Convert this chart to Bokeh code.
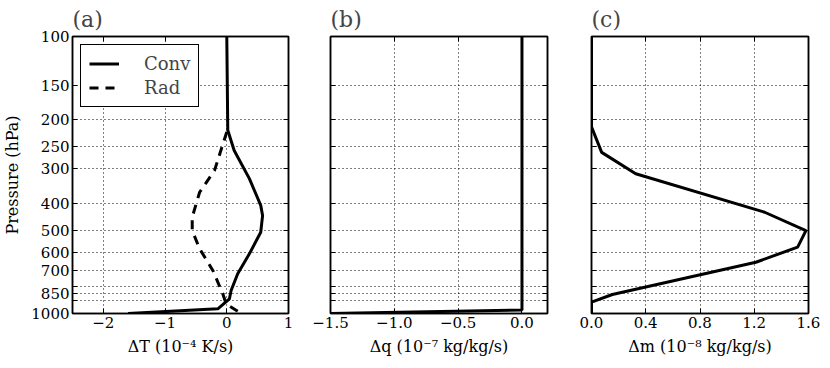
from bokeh.plotting import figure
from bokeh.layouts import row
from bokeh.models import Range1d, FixedTicker, Legend, LegendItem, LinearAxis, LogAxis
from bokeh.embed import file_html
from bokeh.resources import INLINE

# ---- data ----
p_ticks = [100, 150, 200, 250, 300, 400, 500, 600, 700, 800, 850, 900, 1000]
p_labels = ["100", "150", "200", "250", "300", "400", "500", "600", "700", "", "850", "", "1000"]

# (a) temperature tendency
conv_p = [100, 218, 258, 326, 407, 443, 509, 609, 719, 826, 885, 962, 1000]
conv_dT = [0.0, 0.016, 0.12, 0.366, 0.55, 0.58, 0.55, 0.366, 0.177, 0.07, 0.043, -0.145, -1.6]
rad_p = [221, 305, 365, 449, 502, 584, 699, 849, 923, 989]
rad_dT = [0.0, -0.2, -0.44, -0.56, -0.56, -0.44, -0.226, -0.065, -0.01, 0.2]

# (b) moisture tendency
q_p = [100, 972, 1000]
q_dq = [0.0, 0.0, -1.5]

# (c) mass tendency
m_p = [100, 212, 262, 313, 431, 502, 576, 653, 854, 910, 1000]
m_dm = [0.0, 0.0, 0.075, 0.326, 1.277, 1.581, 1.52, 1.212, 0.154, 0.0, 0.0]

xa_ticks = [-2, -1, 0, 1]
xa_labels = ["\u22122", "\u22121", "0", "1"]
xb_ticks = [-1.5, -1.0, -0.5, 0.0]
xb_labels = ["\u22121.5", "\u22121.0", "\u22120.5", "0.0"]
xc_ticks = [0.0, 0.4, 0.8, 1.2, 1.6]
xc_labels = ["0.0", "0.4", "0.8", "1.2", "1.6"]

FONT = "DejaVu Serif"
H = 360
FRAME_W = 217


def style_axis(ax):
    ax.major_tick_in = 5
    ax.major_tick_out = 0
    ax.minor_tick_in = 0
    ax.minor_tick_out = 0
    ax.axis_line_color = "black"
    ax.axis_line_width = 1.5
    ax.major_tick_line_color = "black"
    ax.major_tick_line_width = 1
    ax.major_label_text_font = FONT
    ax.major_label_text_font_size = "15px"
    ax.major_label_text_color = "black"
    ax.axis_label_text_font = FONT
    ax.axis_label_text_font_size = "16px"
    ax.axis_label_text_font_style = "normal"
    ax.axis_label_text_color = "black"
    ax.major_label_standoff = 3
    ax.axis_label_standoff = 6


def make_panel(title, xr, xticks, xlabels, xlabel, border_left, border_right, show_ylabels):
    p = figure(width=border_left + FRAME_W + border_right, height=H,
               x_range=Range1d(*xr), y_range=Range1d(1000, 100),
               y_axis_type="log", output_backend="svg", toolbar_location=None,
               min_border_left=border_left, min_border_right=border_right,
               min_border_top=36, min_border_bottom=47)
    p.title.text = title
    p.title.text_font = FONT
    p.title.text_font_size = "22px"
    p.title.text_font_style = "normal"
    p.title.align = "left"
    p.title.offset = 0
    p.title.standoff = 9
    p.outline_line_color = "black"
    p.outline_line_width = 1.5
    p.outline_line_alpha = 1
    p.background_fill_color = "white"
    p.border_fill_color = "white"

    p.xaxis.ticker = FixedTicker(ticks=xticks)
    p.xaxis.major_label_overrides = dict(zip(xticks, xlabels))
    p.xgrid.ticker = FixedTicker(ticks=xticks)
    p.yaxis.ticker = FixedTicker(ticks=p_ticks)
    p.ygrid.ticker = FixedTicker(ticks=p_ticks)
    if show_ylabels:
        p.yaxis.major_label_overrides = dict(zip(p_ticks, p_labels))
        p.yaxis.axis_label = "Pressure (hPa)"
    else:
        p.yaxis.major_label_overrides = {t: "" for t in p_ticks}
    p.xaxis.axis_label = xlabel

    for ax in (p.xaxis[0], p.yaxis[0]):
        style_axis(ax)

    top = LinearAxis(ticker=FixedTicker(ticks=xticks),
                     major_label_overrides={t: "" for t in xticks})
    right = LogAxis(ticker=FixedTicker(ticks=p_ticks),
                    major_label_overrides={t: "" for t in p_ticks})
    for ax in (top, right):
        style_axis(ax)
        ax.major_label_standoff = 0
        ax.major_label_text_font_size = "1px"
    p.add_layout(top, "above")
    p.add_layout(right, "right")

    for g in (p.xgrid, p.ygrid):
        g.grid_line_color = "black"
        g.grid_line_alpha = 1
        g.grid_line_width = 1
        g.grid_line_dash = "1 3"
    return p


pa = make_panel("(a)", (-2.5, 1.0), xa_ticks, xa_labels, "\u0394T (10\u207b\u2074 K/s)", 71, 21, True)
pb = make_panel("(b)", (-1.5, 0.2), xb_ticks, xb_labels, "\u0394q (10\u207b\u2077 kg/kg/s)", 21, 22, False)
pc = make_panel("(c)", (0.0, 1.6), xc_ticks, xc_labels, "\u0394m (10\u207b\u2078 kg/kg/s)", 22, 22, False)

r_conv = pa.line(conv_dT, conv_p, line_color="black", line_width=3)
r_rad = pa.line(rad_dT, rad_p, line_color="black", line_width=3, line_dash="9 7")
legend = Legend(items=[LegendItem(label="Conv", renderers=[r_conv]),
                       LegendItem(label="Rad", renderers=[r_rad])],
                location="top_left")
legend.margin = 8
legend.padding = 8
legend.spacing = 3
legend.glyph_width = 30
legend.glyph_height = 21
legend.label_standoff = 25
legend.label_text_font = FONT
legend.label_text_font_size = "18px"
legend.border_line_color = "black"
legend.border_line_width = 1.5
legend.border_line_alpha = 1
legend.background_fill_alpha = 1
pa.add_layout(legend)

pb.line(q_dq, q_p, line_color="black", line_width=3)
pc.line(m_dm, m_p, line_color="black", line_width=3)

layout = row(pa, pb, pc)
open("out.html", "w").write(file_html(layout, INLINE))
